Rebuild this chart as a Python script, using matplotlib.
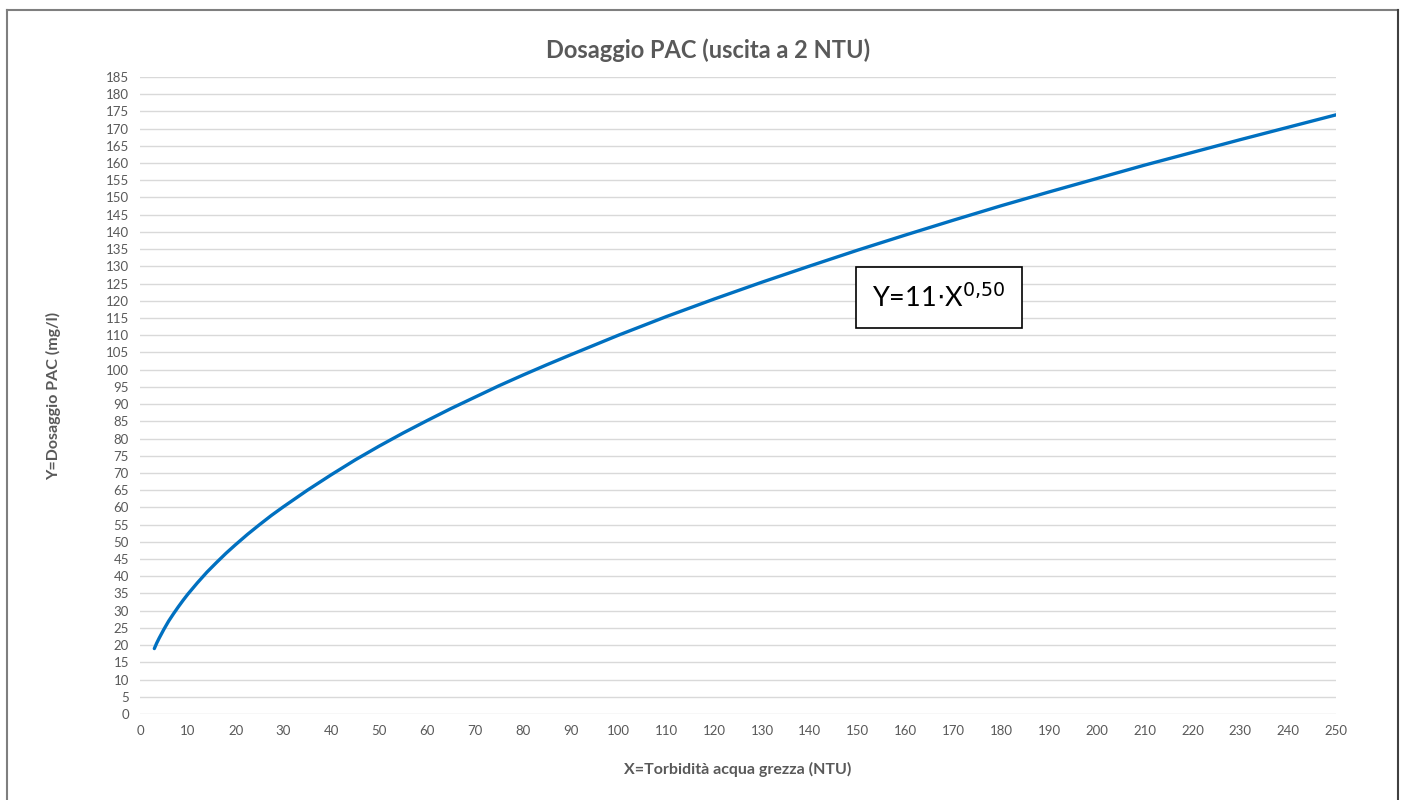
import matplotlib.pyplot as plt
from matplotlib.lines import Line2D

plt.rcParams['font.family'] = ['Lato', 'DejaVu Sans']

# valori
torbidita = [3, 3.5, 4, 5, 6, 7, 8, 9, 10, 12, 14, 16, 18, 20, 22.5, 25, 27.5, 30, 35,
             40, 45, 50, 55, 60, 65, 70, 75, 80, 85, 90, 100, 110, 120, 130, 140, 150,
             160, 170, 180, 190, 200, 210, 220, 230, 240, 250]
dosaggio = [19, 20.6, 22, 24.6, 27, 29.1, 31.1, 33, 34.8, 38.1, 41.2, 44, 46.7, 49.2,
            52.2, 55, 57.7, 60.2, 65, 69.5, 73.8, 77.8, 81.6, 85.2, 88.7, 92, 95.3, 98.4,
            101.4, 104.3, 110, 115.4, 120.5, 125.4, 130.1, 134.7, 139.1, 143.4, 147.6,
            151.6, 155.5, 159.4, 163.1, 166.8, 170.4, 174]
x_ticks = list(range(0, 251, 10))
y_ticks = list(range(0, 186, 5))

grigio = '#595959'

fig = plt.figure(figsize=(14.04, 8), dpi=100)
ax = fig.add_axes([0.0997, 0.1075, 0.8519, 0.7963])

ax.plot(torbidita, dosaggio, color='#0070C0', linewidth=2.4, solid_capstyle='round',
        solid_joinstyle='round', zorder=3)

ax.set_xlim(0, 250)
ax.set_ylim(0, 185)
ax.set_xticks(x_ticks)
ax.set_yticks(y_ticks)
ax.tick_params(length=0, labelsize=9.5, colors=grigio, pad=8)
ax.grid(axis='y', color='#d9d9d9', linewidth=1)
ax.set_axisbelow(True)
for s in ax.spines.values():
    s.set_visible(False)

fig.text(0.504, 0.9375, 'Dosaggio PAC (uscita a 2 NTU)', fontsize=17, fontweight='bold',
         color=grigio, ha='center', va='center')
ax.set_xlabel('X=Torbidità acqua grezza (NTU)', fontsize=11.5, fontweight='bold',
              color=grigio, labelpad=18)
ax.set_ylabel('Y=Dosaggio PAC (mg/l)', fontsize=11.5, fontweight='bold',
              color=grigio, labelpad=32)

ax.text(167, 121, r'Y=11$\cdot$X$^{0{,}50}$', fontsize=19.5, ha='center', va='center',
        bbox=dict(boxstyle='square,pad=0.6', facecolor='white', edgecolor='black',
                  linewidth=1.2), zorder=4)

# cornice del grafico
fig.add_artist(Line2D([0.005, 0.005], [0, 0.9875], color='#7f7f7f', linewidth=1.5,
                      transform=fig.transFigure))
fig.add_artist(Line2D([0.005, 0.9957], [0.9875, 0.9875], color='#7f7f7f', linewidth=1.5,
                      transform=fig.transFigure))
fig.add_artist(Line2D([0.9957, 0.9957], [0, 0.9875], color='#404040', linewidth=1.5,
                      transform=fig.transFigure))

fig.savefig('out.png', dpi=100)
